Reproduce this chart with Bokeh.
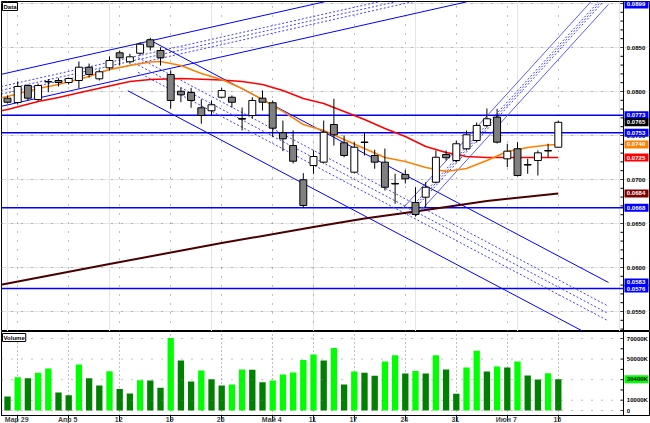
from bokeh.plotting import figure
from bokeh.layouts import column
from bokeh.models import Range1d, FixedTicker, Label, Grid
from bokeh.core.properties import value
from bokeh.embed import file_html
from bokeh.resources import INLINE

# ---- daily bars ----
opens = [0.07924, 0.07875, 0.08068, 0.07909, 0.08108, 0.08125, 0.08102, 0.08125, 0.08276, 0.08144,
         0.08269, 0.08440, 0.08338, 0.08435, 0.08588, 0.08466, 0.08193, 0.08003, 0.07989, 0.07815,
         0.07781, 0.07935, 0.07935, 0.07693, 0.07727, 0.07924, 0.07872, 0.07531, 0.07386, 0.06997,
         0.07159, 0.07197, 0.07625, 0.07417, 0.07083, 0.07426, 0.07273, 0.07197, 0.06955, 0.07057,
         0.06739, 0.06799, 0.06969, 0.07284, 0.07216, 0.07349, 0.07443, 0.07614, 0.07708, 0.07235,
         0.07349, 0.07170, 0.07216, 0.07330, 0.07367]
highs = [0.07955, 0.08114, 0.08080, 0.08091, 0.08140, 0.08151, 0.08159, 0.08341, 0.08318, 0.08250,
         0.08398, 0.08466, 0.08428, 0.08560, 0.08610, 0.08503, 0.08239, 0.08045, 0.08042, 0.07912,
         0.07898, 0.08042, 0.07955, 0.07818, 0.07935, 0.08011, 0.07898, 0.07670, 0.07557, 0.07072,
         0.07330, 0.07670, 0.07917, 0.07500, 0.07424, 0.07537, 0.07338, 0.07352, 0.07065, 0.07110,
         0.06912, 0.06969, 0.07330, 0.07330, 0.07443, 0.07557, 0.07648, 0.07807, 0.07803, 0.07406,
         0.07424, 0.07235, 0.07330, 0.07406, 0.07670]
lows = [0.07864, 0.07852, 0.07898, 0.07890, 0.07992, 0.08057, 0.08080, 0.08034, 0.08159, 0.08125,
        0.08239, 0.08295, 0.08315, 0.08409, 0.08466, 0.08295, 0.07803, 0.07878, 0.07815, 0.07633,
        0.07727, 0.07920, 0.07818, 0.07557, 0.07693, 0.07784, 0.07481, 0.07322, 0.07182, 0.06685,
        0.07065, 0.07182, 0.07386, 0.07253, 0.07068, 0.07273, 0.07122, 0.06875, 0.06724, 0.06955,
        0.06580, 0.06685, 0.06955, 0.07216, 0.07193, 0.07330, 0.07420, 0.07591, 0.07409, 0.07140,
        0.07034, 0.07065, 0.07045, 0.07253, 0.07364]
closes = [0.07878, 0.08057, 0.07924, 0.08068, 0.08114, 0.08102, 0.08148, 0.08276, 0.08193, 0.08224,
          0.08352, 0.08383, 0.08394, 0.08538, 0.08508, 0.08383, 0.07898, 0.07962, 0.07898, 0.07727,
          0.07849, 0.08011, 0.07878, 0.07686, 0.07898, 0.07878, 0.07583, 0.07462, 0.07208, 0.06705,
          0.07261, 0.07537, 0.07508, 0.07273, 0.07367, 0.07420, 0.07197, 0.06912, 0.06949, 0.07008,
          0.06602, 0.06912, 0.07253, 0.07247, 0.07406, 0.07508, 0.07614, 0.07690, 0.07424, 0.07322,
          0.07045, 0.07164, 0.07303, 0.07324, 0.07650]
volumes_k = [13600, 32300, 31400, 36600, 40800, 17500, 14900, 44700, 31400, 24300,
             38200, 21000, 16500, 29400, 29100, 22000, 70600, 48500, 28200, 38800,
             30400, 24300, 25200, 39800, 39500, 27500, 29100, 35000, 36900, 49200,
             54400, 48500, 60800, 25200, 37900, 36600, 33700, 47600, 53700, 35900,
             38500, 35900, 53700, 39800, 16200, 41700, 58000, 37900, 42700, 41700,
             47600, 34000, 30100, 36200, 30400]

tick_bars = [1, 6, 11, 16, 21, 26, 30, 34, 39, 44, 49, 54]
tick_labels = ["Мар 29", "Апр 5", "12", "19", "26", "Май 4", "11", "17", "24", "31", "Июн 7", "15"]

price_ticks = [0.055, 0.060, 0.065, 0.070, 0.075, 0.080, 0.085, 0.090]
price_tick_labels = ["0.0550", "0.0600", "0.0650", "0.0700", "0.0750", "0.0800", "0.0850", "0.0900"]
volume_ticks = [0, 10000, 30000, 50000, 70000]
volume_tick_labels = ["0", "10000K", "30000K", "50000K", "70000K"]

# ---- moving averages (bar index, value) ----
ma_fast_bars = [-1, 0, 3, 5, 8, 10, 12, 14, 15, 17, 19, 21, 23, 25, 27, 29, 31, 33, 35, 37, 39, 40, 41, 43, 45, 47, 49, 51, 53, 54]
ma_fast_vals = [0.07920, 0.07943, 0.08034, 0.08080, 0.08170, 0.08250, 0.08295, 0.08335, 0.08341, 0.08295,
                0.08205, 0.08136, 0.08034, 0.07909, 0.07773, 0.07625, 0.07557, 0.07455, 0.07352, 0.07250,
                0.07205, 0.07170, 0.07136, 0.07091, 0.07125, 0.07216, 0.07318, 0.07364, 0.07392, 0.07398]
ma_mid_bars = [-1, 0, 3, 5, 8, 10, 12, 14, 17, 21, 23, 25, 27, 29, 31, 33, 35, 37, 39, 41, 43, 45, 47, 50, 54]
ma_mid_vals = [0.07773, 0.07795, 0.07886, 0.07932, 0.08011, 0.08063, 0.08114, 0.08136, 0.08148, 0.08131,
               0.08114, 0.08080, 0.08011, 0.07920, 0.07864, 0.07773, 0.07682, 0.07580, 0.07489, 0.07375,
               0.07307, 0.07261, 0.07250, 0.07250, 0.07250]
ma_slow_bars = [-1, 0, 10, 21, 30, 35, 40, 47, 54]
ma_slow_vals = [0.05795, 0.05818, 0.06040, 0.06278, 0.06460, 0.06557, 0.06636, 0.06756, 0.06842]

# ---- horizontal levels ----
levels = [0.0773, 0.0753, 0.0668, 0.0576]

# ---- channels: base line (x0, y0) -> (x1, y1), parallel offset, start bar of the far line ----
fib_ratios = [0.382, 0.5, 0.618]
chan_a = dict(x0=-1.0, y0=0.08185, x1=45.0, y1=0.09382, width=-0.003636, start=-1.0)
chan_b = dict(x0=13.8, y0=0.08594, x1=58.92, y1=0.05830, width=-0.00708, start=11.8)
chan_c = dict(x0=40.0, y0=0.06580, x1=58.92, y1=0.08990, width=0.00250, start=38.8)

# ---- geometry of the window ----
BAR_PX = 10.2
FRAME_W = 648
X0 = -6.0 / BAR_PX
X1 = X0 + FRAME_W / BAR_PX
AX = X0 + 622 / BAR_PX          # price scale line
PRICE_PX = 8800.0
P_TOP = 0.08 + 90 / PRICE_PX
P_BOT = P_TOP - 330 / PRICE_PX
VOL_PX = 72 / 70000.0
V_TOP = 70000 + 7 / VOL_PX
V_BOT = -5 / VOL_PX

idx = list(range(len(opens)))
body_top = [max(o, c) for o, c in zip(opens, closes)]
body_bot = [min(o, c) for o, c in zip(opens, closes)]
body_fill = ["white" if c >= o else "#808080" for o, c in zip(opens, closes)]
vol_color = ["#008000"] + ["#00ff00" if volumes_k[i] > volumes_k[i - 1] else "#008000"
                           for i in range(1, len(volumes_k))]

FONT = "Liberation Sans"
x_range = Range1d(X0, X1)


def price_scale(fig, ticks, labels, minor, lo, hi):
    """Scale line, tick marks and tick texts on the right of the bars."""
    fig.line([AX, AX], [lo, hi], line_color="black", line_width=1)
    fig.segment(x0=[AX - 0.3] * len(minor), y0=minor, x1=[AX] * len(minor), y1=minor,
                line_color="black", line_width=1)
    fig.segment(x0=[X0] * len(ticks), y0=ticks, x1=[AX] * len(ticks), y1=ticks,
                line_color="#808080", line_width=1, line_dash="1 9")
    fig.text(x=[AX + 0.33] * len(ticks), y=ticks, text=labels, text_font=value(FONT),
             text_font_size="6px", text_font_style="bold", text_color="black",
             text_baseline="middle", text_align="left")


def value_boxes(fig, ys, texts, fills, fgs):
    xs = [AX + 13.0 / BAR_PX] * len(ys)
    fig.rect(x=xs, y=ys, width=24, height=8, width_units="screen", height_units="screen",
             fill_color=fills, line_color=None)
    fig.text(x=[AX + 0.33] * len(ys), y=ys, text=texts, text_font=value(FONT),
             text_font_size="6px", text_font_style="bold", text_color=fgs,
             text_baseline="middle", text_align="left")


# ================= price panel =================
p = figure(frame_width=FRAME_W, frame_height=330, x_range=x_range, y_range=Range1d(P_BOT, P_TOP),
           x_axis_location=None, y_axis_location=None, toolbar_location=None,
           output_backend="svg", min_border_left=1, min_border_right=1, min_border_top=1,
           min_border_bottom=0, background_fill_color="white", border_fill_color="white")
p.outline_line_color = "black"
p.add_layout(Grid(dimension=0, ticker=FixedTicker(ticks=tick_bars),
                  grid_line_color="#808080", grid_line_dash="1 8"))

minor_price = [round(0.053 + 0.001 * k, 3) for k in range(38)]
price_scale(p, price_ticks, price_tick_labels, minor_price, P_BOT, P_TOP)

for lv in levels:
    p.line([X0 - 1, AX], [lv, lv], line_color="#0000ff", line_width=1.5)


def channel_lines(fig, ch, color):
    slope = (ch["y1"] - ch["y0"]) / (ch["x1"] - ch["x0"])
    for f in [0.0] + fib_ratios + [1.0]:
        off = ch["width"] * f
        xs = ch["x0"] if f == 0.0 else ch["start"] if f == 1.0 else (ch["x0"] + ch["start"]) / 2
        ys = ch["y0"] + slope * (xs - ch["x0"]) + off
        ye = ch["y1"] + off
        if f in (0.0, 1.0):
            fig.line([xs, ch["x1"]], [ys, ye], line_color=color, line_width=1)
        else:
            fig.line([xs, ch["x1"]], [ys, ye], line_color="#4040ff", line_width=1, line_dash="2 2")


channel_lines(p, chan_a, "#0000ff")
channel_lines(p, chan_b, "#0000ff")
channel_lines(p, chan_c, "#5a5aff")

p.line(ma_slow_bars, ma_slow_vals, line_color="#4a0000", line_width=2)
p.line(ma_mid_bars, ma_mid_vals, line_color="#ff0000", line_width=1.6)
p.line(ma_fast_bars, ma_fast_vals, line_color="#ff8000", line_width=1.5)

p.segment(x0=idx, y0=lows, x1=idx, y1=highs, line_color="black", line_width=1)
p.vbar(x=idx, width=0.68, top=body_top, bottom=body_bot, fill_color=body_fill,
       line_color="black", line_width=1)

box_vals = [chan_c["y1"], levels[0], closes[-1], levels[1], ma_fast_vals[-1], ma_mid_vals[-1],
            ma_slow_vals[-1], levels[2], chan_b["y1"], levels[3]]
box_fill = ["#0000ff", "#0000ff", "black", "#0000ff", "#ff8000", "#ff0000",
            "#800000", "#0000ff", "#0000ff", "#0000ff"]
value_boxes(p, box_vals, [f"{b:.4f}" for b in box_vals], box_fill, ["white"] * len(box_vals))

p.add_layout(Label(x=1, y=329, x_units="screen", y_units="screen", text="Data", text_font=FONT,
                   text_font_size="6px", text_font_style="bold", text_color="black",
                   text_baseline="top", background_fill_color="white",
                   border_line_color="black", padding=1))

# ================= volume panel =================
v = figure(frame_width=FRAME_W, frame_height=84, x_range=x_range, y_range=Range1d(V_BOT, V_TOP),
           y_axis_location=None, toolbar_location=None, output_backend="svg",
           min_border_left=1, min_border_right=1, min_border_top=0, min_border_bottom=0,
           background_fill_color="white", border_fill_color="white")
v.outline_line_color = "black"
v.ygrid.visible = False
v.vbar(x=idx, width=0.62, top=volumes_k, bottom=0, fill_color=vol_color, line_color=None)

minor_vol = [k * 10000 for k in range(8)]
price_scale(v, volume_ticks, volume_tick_labels, minor_vol, V_BOT, V_TOP)
value_boxes(v, [volumes_k[-1]], [f"{volumes_k[-1]}K"], ["#00ff00"], ["black"])

v.xaxis.ticker = FixedTicker(ticks=tick_bars)
v.xaxis.major_label_overrides = {b: " " + t for b, t in zip(tick_bars, tick_labels)}
v.xaxis.major_label_text_align = "left"
v.xaxis.major_label_text_font_size = "7px"
v.xaxis.major_label_text_font_style = "bold"
v.xaxis.major_label_text_font = FONT
v.xaxis.major_tick_out = 6
v.xaxis.major_tick_in = 0
v.xaxis.major_label_standoff = -6
v.xaxis.minor_tick_line_color = None
v.xaxis.axis_line_color = "black"
v.xgrid.ticker = FixedTicker(ticks=tick_bars)
v.xgrid.grid_line_color = "#808080"
v.xgrid.grid_line_dash = "1 3"

v.add_layout(Label(x=1, y=82, x_units="screen", y_units="screen", text="Volume", text_font=FONT,
                   text_font_size="6px", text_font_style="bold", text_color="black",
                   text_baseline="top", background_fill_color="white",
                   border_line_color="black", padding=1))

layout = column(p, v, spacing=0)
open("out.html", "w").write(file_html(layout, INLINE))
